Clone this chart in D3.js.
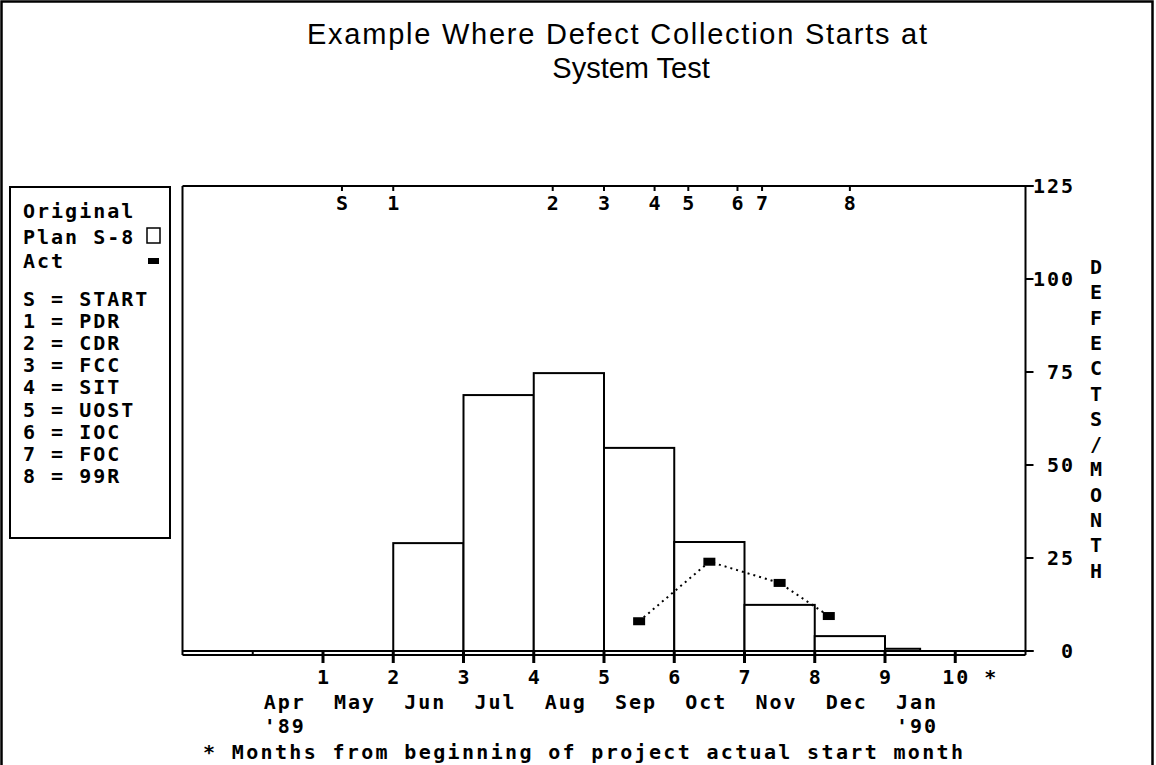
<!DOCTYPE html>
<html>
<head>
<meta charset="utf-8">
<script src="https://d3js.org/d3.v7.min.js"></script>
<style>
  body { margin: 0; background: #fff; }
  .mono { font-family: 'DejaVu Sans Mono', monospace; font-weight: bold; font-size: 20px; letter-spacing: 2px; fill: #000; }
</style>
</head>
<body>
<div id="root"></div>
<script>
// chart data
const planStart = [2, 3, 4, 5, 6, 7, 8, 9];
const planEnd = [3, 4, 5, 6, 7, 8, 9, 9.5];
const planValues = [29, 68.8, 74.7, 54.6, 29.3, 12.4, 4, 0.6];

const actualMonths = [5.5, 6.5, 7.5, 8.2];
const actualValues = [8, 24, 18.3, 9.4];

const milestoneLabels = ["S", "1", "2", "3", "4", "5", "6", "7", "8"];
const milestoneMonths = [1.27, 2.0, 4.27, 5.0, 5.72, 6.2, 6.9, 7.25, 8.5];

const monthNumbers = [1, 2, 3, 4, 5, 6, 7, 8, 9, 10];
const monthNames = ["Apr", "May", "Jun", "Jul", "Aug", "Sep", "Oct", "Nov", "Dec", "Jan"];
const yearIndex = [0, 9];
const yearLabels = ["'89", "'90"];
const yTicks = [0, 25, 50, 75, 100, 125];

const legendHead = ["Original", "Plan S-8", "Act"];
const legendKeys = ["S = START", "1 = PDR", "2 = CDR", "3 = FCC", "4 = SIT", "5 = UOST", "6 = IOC", "7 = FOC", "8 = 99R"];

const titleLines = ["Example Where Defect Collection Starts at", "System Test"];
const axisTitle = "DEFECTS/MONTH";
const footnote = "* Months from beginning of project actual start month";

const w = 1156;
const h = 765;

const svg = d3.select("#root")
  .append("svg")
  .attr("width", w)
  .attr("height", h)
  .style("display", "block");

svg.append("rect").attr("width", w).attr("height", h).attr("fill", "#fff");

// outer page border (bottom runs off the picture)
svg.append("rect")
  .attr("x", 1.5).attr("y", 1.5)
  .attr("width", 1151).attr("height", 800)
  .attr("fill", "none").attr("stroke", "#000").attr("stroke-width", 2.5);

const x = d3.scaleLinear().domain([-1, 11]).range([182.5, 1025.5]);
const y = d3.scaleLinear().domain([0, 125]).range([651, 186]);

// title
const title = svg.append("g")
  .style("font-family", "'Liberation Sans', Arial, sans-serif")
  .style("font-size", "29px");
title.append("text")
  .attr("x", 307).attr("y", 44)
  .attr("textLength", 620)
  .attr("lengthAdjust", "spacing")
  .text(titleLines[0]);
title.append("text")
  .attr("x", 631).attr("y", 78)
  .attr("text-anchor", "middle")
  .text(titleLines[1]);

// plan bars
svg.selectAll(".plan")
  .data(planValues)
  .enter()
  .append("rect")
  .attr("class", "plan")
  .attr("x", (d, i) => x(planStart[i]))
  .attr("y", d => y(d))
  .attr("width", (d, i) => x(planEnd[i]) - x(planStart[i]))
  .attr("height", d => y(0) - y(d))
  .attr("fill", "#fff")
  .attr("stroke", "#000")
  .attr("stroke-width", 2);

// frame: left, top, right axis
const frame = svg.append("g").attr("stroke", "#000").attr("stroke-width", 2);
frame.append("line").attr("x1", x(-1)).attr("x2", x(-1)).attr("y1", y(125)).attr("y2", y(0) + 4);
frame.append("line").attr("x1", x(-1)).attr("x2", x(11) + 8).attr("y1", y(125)).attr("y2", y(125));
frame.append("line").attr("x1", x(11)).attr("x2", x(11)).attr("y1", y(125)).attr("y2", y(0) + 4);

// double baseline with divider at month 0
frame.append("line").attr("x1", x(-1)).attr("x2", x(11) + 8).attr("y1", y(0)).attr("y2", y(0));
frame.append("line").attr("x1", x(-1)).attr("x2", x(11)).attr("y1", y(0) + 4).attr("y2", y(0) + 4);
frame.append("line").attr("x1", x(0)).attr("x2", x(0)).attr("y1", y(0)).attr("y2", y(0) + 4);

// month ticks
svg.selectAll(".mtick")
  .data(monthNumbers)
  .enter()
  .append("line")
  .attr("x1", d => x(d)).attr("x2", d => x(d))
  .attr("y1", y(0)).attr("y2", y(0) + 12)
  .attr("stroke", "#000").attr("stroke-width", 3);

svg.selectAll(".mnum")
  .data(monthNumbers)
  .enter()
  .append("text")
  .attr("class", "mono")
  .attr("x", d => x(d) + 1)
  .attr("y", 684)
  .attr("text-anchor", "middle")
  .text(d => d);

svg.append("text")
  .attr("class", "mono")
  .attr("x", x(10) + 36)
  .attr("y", 684)
  .attr("text-anchor", "middle")
  .text("*");

svg.selectAll(".mname")
  .data(monthNames)
  .enter()
  .append("text")
  .attr("class", "mono")
  .attr("x", (d, i) => x(i) + 11)
  .attr("y", 709)
  .text(d => d);

svg.selectAll(".year")
  .data(yearLabels)
  .enter()
  .append("text")
  .attr("class", "mono")
  .attr("x", (d, i) => x(yearIndex[i]) + 11)
  .attr("y", 733)
  .text(d => d);

svg.append("text")
  .attr("class", "mono")
  .attr("x", 203)
  .attr("y", 759)
  .attr("textLength", 762)
  .attr("lengthAdjust", "spacing")
  .text(footnote);

// right y axis ticks and labels
svg.selectAll(".ytick")
  .data(yTicks)
  .enter()
  .append("line")
  .attr("x1", x(11)).attr("x2", x(11) + 8)
  .attr("y1", d => y(d)).attr("y2", d => y(d))
  .attr("stroke", "#000").attr("stroke-width", 2);

svg.selectAll(".ylab")
  .data(yTicks)
  .enter()
  .append("text")
  .attr("class", "mono")
  .attr("x", 1075)
  .attr("y", d => y(d) + 7)
  .attr("text-anchor", "end")
  .text(d => d);

svg.selectAll(".axisTitle")
  .data(axisTitle.split(""))
  .enter()
  .append("text")
  .attr("class", "mono")
  .attr("x", 1097)
  .attr("y", (d, i) => 274 + i * 25.3)
  .attr("text-anchor", "middle")
  .text(d => d);

// milestones along top
svg.selectAll(".mstick")
  .data(milestoneMonths)
  .enter()
  .append("line")
  .attr("x1", d => x(d)).attr("x2", d => x(d))
  .attr("y1", y(125)).attr("y2", y(125) + 5)
  .attr("stroke", "#000").attr("stroke-width", 2);

svg.selectAll(".mslab")
  .data(milestoneLabels)
  .enter()
  .append("text")
  .attr("class", "mono")
  .attr("x", (d, i) => x(milestoneMonths[i]) + 1)
  .attr("y", 210)
  .attr("text-anchor", "middle")
  .text(d => d);

// actual line with square markers
const line = d3.line()
  .x((d, i) => x(actualMonths[i]))
  .y(d => y(d));

svg.append("path")
  .datum(actualValues)
  .attr("d", line)
  .attr("fill", "none")
  .attr("stroke", "#000")
  .attr("stroke-width", 2)
  .attr("stroke-dasharray", "2,4");

svg.selectAll(".act")
  .data(actualValues)
  .enter()
  .append("rect")
  .attr("x", (d, i) => x(actualMonths[i]) - 6)
  .attr("y", d => y(d) - 4)
  .attr("width", 12)
  .attr("height", 8)
  .attr("fill", "#000");

// legend box
const legend = svg.append("g").attr("id", "legend");
legend.append("rect")
  .attr("x", 10).attr("y", 187)
  .attr("width", 160).attr("height", 351)
  .attr("fill", "#fff").attr("stroke", "#000").attr("stroke-width", 2);

legend.selectAll(".lhead")
  .data(legendHead)
  .enter()
  .append("text")
  .attr("class", "mono")
  .attr("x", 23)
  .attr("y", (d, i) => [218, 244, 268][i])
  .text(d => d);

legend.append("rect")
  .attr("x", 147).attr("y", 228).attr("width", 13).attr("height", 15)
  .attr("fill", "#fff").attr("stroke", "#000").attr("stroke-width", 1.5);
legend.append("rect")
  .attr("x", 148).attr("y", 258).attr("width", 11).attr("height", 6)
  .attr("fill", "#000");

legend.selectAll(".lkey")
  .data(legendKeys)
  .enter()
  .append("text")
  .attr("class", "mono")
  .attr("x", 23)
  .attr("y", (d, i) => 306 + i * 22.1)
  .text(d => d);
</script>
</body>
</html>
